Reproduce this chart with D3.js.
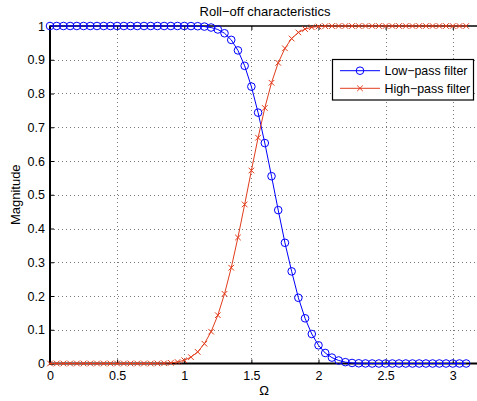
<!DOCTYPE html>
<html>
<head>
<meta charset="utf-8">
<script src="https://cdn.jsdelivr.net/npm/d3@7"></script>
<style>
  html, body { margin: 0; padding: 0; background: #fff; }
  svg { display: block; }
  text { font-family: "Liberation Sans", Arial, Helvetica, sans-serif; fill: #000; }
</style>
</head>
<body>
<svg id="chart" width="477" height="401"></svg>
<script>
// ---- data ----
const omega = [0,0.05,0.1,0.15,0.2,0.25,0.3,0.35,0.4,0.45,0.5,0.55,0.6,0.65,0.7,0.75,0.8,0.85,0.9,0.95,
  1,1.05,1.1,1.15,1.2,1.25,1.3,1.35,1.4,1.45,1.5,1.55,1.6,1.65,1.7,1.75,1.8,1.85,1.9,1.95,
  2,2.05,2.1,2.15,2.2,2.25,2.3,2.35,2.4,2.45,2.5,2.55,2.6,2.65,2.7,2.75,2.8,2.85,2.9,2.95,
  3,3.05,3.1];
const lowPass = [1,1,1,1,1,1,1,1,1,1,1,1,1,1,1,1,1,1,1,1,
  1.0000,0.9998,0.9994,0.9983,0.9955,0.9897,0.9785,0.9589,0.9277,0.8820,
  0.8204,0.7433,0.6532,0.5550,0.4545,0.3577,0.2730,0.1947,0.1339,0.0874,
  0.0539,0.0312,0.0175,0.0090,0.0040,0.0016,0.0006,0.0002,
  0,0,0,0,0,0,0,0,0,0,0,0,0,0,0];
const highPass = [0,0,0,0,0,0,0,0,0,0,0,0,0,0,0,0,
  0.0003,0.0007,0.0019,0.0045,0.0096,0.0188,0.0344,0.0587,0.0943,0.1431,
  0.2064,0.2838,0.3734,0.4713,0.5718,0.6690,0.7572,0.8318,0.8908,0.9338,
  0.9629,0.9809,0.9910,0.9962,0.9985,0.9995,0.9999,
  1,1,1,1,1,1,1,1,1,1,1,1,1,1,1,1,1,1,1,1];
const xTicks = [0,0.5,1,1.5,2,2.5,3];
const xTickLabels = ["0","0.5","1","1.5","2","2.5","3"];
const yTicks = [0,0.1,0.2,0.3,0.4,0.5,0.6,0.7,0.8,0.9,1];
const yTickLabels = ["0","0.1","0.2","0.3","0.4","0.5","0.6","0.7","0.8","0.9","1"];
const seriesNames = ["Low\u2212pass filter","High\u2212pass filter"];
const titleText = "Roll\u2212off characteristics";
const xLabelText = "\u03A9";
const yLabelText = "Magnitude";

(function () {
// ---- layout ----
const pLeft = 50, pRight = 478, pTop = 26, pBottom = 363.5;
const pxPerUnit = 134.25;
const x = d3.scaleLinear().domain([0, (pRight-pLeft)/pxPerUnit]).range([pLeft, pRight]);
const y = d3.scaleLinear().domain([0, 1]).range([pBottom, pTop]);
const blue = "#0000ff", red = "#e23c1c";

const svg = d3.select("#chart");

// grid
const grid = svg.append("g").attr("stroke", "#7a7a7a").attr("stroke-width", 1)
  .attr("stroke-dasharray", "1,3").attr("shape-rendering", "crispEdges");
grid.selectAll("line.gx").data(xTicks.filter(v => v > 0)).join("line")
  .attr("class","gx")
  .attr("x1", d => Math.round(x(d)) + 0.5).attr("x2", d => Math.round(x(d)) + 0.5)
  .attr("y1", pTop).attr("y2", pBottom);
grid.selectAll("line.gy").data(yTicks.filter(v => v > 0 && v < 1)).join("line")
  .attr("class","gy")
  .attr("y1", d => Math.round(y(d)) + 0.5).attr("y2", d => Math.round(y(d)) + 0.5)
  .attr("x1", pLeft).attr("x2", pRight);

// axes
const xAxis = d3.axisBottom(x).tickValues(xTicks)
  .tickFormat((d,i) => xTickLabels[i]).tickSize(-4).tickPadding(7.5);
const gx = svg.append("g").attr("transform", `translate(0,${pBottom})`).call(xAxis);
const yAxis = d3.axisLeft(y).tickValues(yTicks)
  .tickFormat((d,i) => yTickLabels[i]).tickSize(-4).tickPadding(5);
const gy = svg.append("g").attr("transform", `translate(${pLeft},0)`).call(yAxis);
[gx, gy].forEach(g => {
  g.select(".domain").remove();
  g.selectAll(".tick line").attr("stroke", "#000").attr("stroke-width", 1);
  g.selectAll(".tick text").style("font-size", "12.5px").attr("fill", "#000")
    .style("font-family", '"Liberation Sans", Arial, sans-serif');
});
// top ticks
const gt = svg.append("g").attr("transform", `translate(0,${pTop})`)
  .call(d3.axisTop(x).tickValues(xTicks).tickFormat("").tickSize(-4));
gt.select(".domain").remove();
gt.selectAll(".tick line").attr("stroke", "#000");

// spines
svg.append("line").attr("x1", pLeft).attr("x2", pRight).attr("y1", pTop).attr("y2", pTop)
  .attr("stroke", "#000").attr("stroke-width", 1.3);
svg.append("line").attr("x1", pLeft).attr("x2", pLeft).attr("y1", pTop - 0.6).attr("y2", pBottom + 1)
  .attr("stroke", "#000").attr("stroke-width", 2);
svg.append("line").attr("x1", pLeft - 1).attr("x2", pRight).attr("y1", pBottom).attr("y2", pBottom)
  .attr("stroke", "#000").attr("stroke-width", 2);

// series
const lpData = omega.map((w,i) => [w, lowPass[i]]);
const hpData = omega.map((w,i) => [w, highPass[i]]);
const line = d3.line().x(d => x(d[0])).y(d => y(d[1]));

svg.append("path").datum(lpData).attr("d", line).attr("fill", "none")
  .attr("stroke", blue).attr("stroke-width", 1);
svg.append("g").selectAll("circle").data(lpData).join("circle")
  .attr("cx", d => x(d[0])).attr("cy", d => y(d[1])).attr("r", 3.8)
  .attr("fill", "none").attr("stroke", blue).attr("stroke-width", 1);

svg.append("path").datum(hpData).attr("d", line).attr("fill", "none")
  .attr("stroke", red).attr("stroke-width", 1);
const cs = 2.8;
const crossPath = (cx, cy) => `M${cx-cs},${cy-cs}L${cx+cs},${cy+cs}M${cx-cs},${cy+cs}L${cx+cs},${cy-cs}`;
svg.append("g").selectAll("path").data(hpData).join("path")
  .attr("d", d => crossPath(x(d[0]), y(d[1])))
  .attr("fill", "none").attr("stroke", red).attr("stroke-width", 1);

// title and labels
svg.append("text").attr("x", 265).attr("y", 16).attr("text-anchor", "middle")
  .style("font-size", "13px").text(titleText);
svg.append("text").attr("x", 264).attr("y", 395).attr("text-anchor", "middle")
  .style("font-size", "13px").text(xLabelText);
svg.append("text").attr("transform", `translate(20,${(pTop+pBottom)/2}) rotate(-90)`)
  .attr("text-anchor", "middle").style("font-size", "13px").text(yLabelText);

// legend
const lg = svg.append("g");
lg.append("rect").attr("x", 332.5).attr("y", 59.5).attr("width", 141).attr("height", 40.5)
  .attr("fill", "#fff").attr("stroke", "#000").attr("stroke-width", 1.2);
const rows = [
  {name: seriesNames[0], color: blue, marker: "circle", yy: 70.7},
  {name: seriesNames[1], color: red, marker: "cross", yy: 88.3}
];
rows.forEach(r => {
  lg.append("line").attr("x1", 340).attr("x2", 380).attr("y1", r.yy).attr("y2", r.yy)
    .attr("stroke", r.color).attr("stroke-width", 1);
  if (r.marker === "circle") {
    lg.append("circle").attr("cx", 360).attr("cy", r.yy).attr("r", 3.8)
      .attr("fill", "none").attr("stroke", r.color);
  } else {
    lg.append("path").attr("d", crossPath(360, r.yy)).attr("fill", "none").attr("stroke", r.color);
  }
  lg.append("text").attr("x", 384.5).attr("y", r.yy + 4.5).style("font-size", "12.4px").text(r.name);
});
})();
</script>
</body>
</html>
